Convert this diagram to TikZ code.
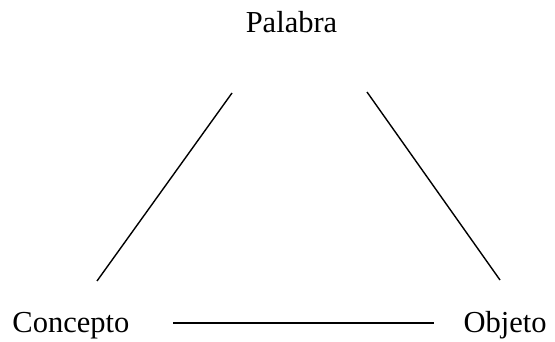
\documentclass[tikz,border=0pt]{standalone}
\usepackage{fontspec}
\setmainfont{Liberation Serif}
\begin{document}
\begin{tikzpicture}[x=1pt,y=-1pt,
  lbl/.style={inner sep=0pt,outer sep=0pt,font=\fontsize{30.5}{36}\selectfont},
  conn/.style={line width=1.4pt}]
\useasboundingbox (0,0) rectangle (555,342);
\node[lbl,anchor=base] (pal) at (291.5,33) {Palabra};
\node[lbl,anchor=base west] (con) at (12.5,332) {Concepto};
\node[lbl,anchor=base west] (obj) at (463.5,332) {Objeto};
\coordinate (palL) at (232,93);
\coordinate (palR) at (367,92);
\coordinate (conT) at (97,281);
\coordinate (objT) at (500,280);
\coordinate (conE) at (173,323);
\coordinate (objW) at (434,323);
\draw[conn] (palL) -- (conT);
\draw[conn] (palR) -- (objT);
\draw[conn] (conE) -- (objW);
\end{tikzpicture}
\end{document}
